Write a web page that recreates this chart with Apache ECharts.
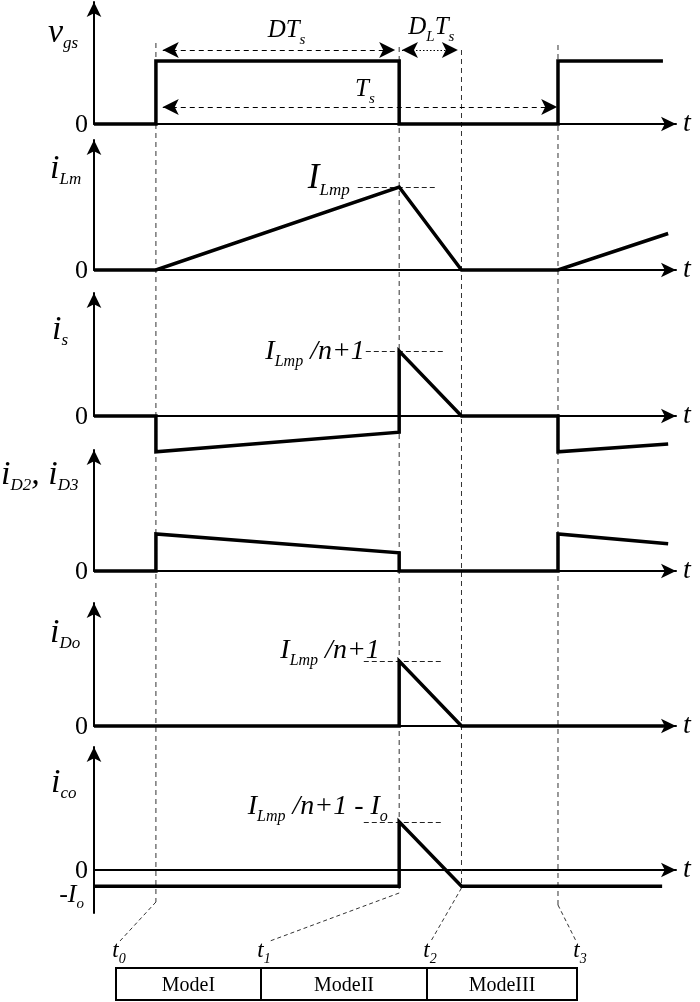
<!DOCTYPE html>
<html><head><meta charset="utf-8">
<script src="https://cdn.jsdelivr.net/npm/echarts@6/dist/echarts.min.js"></script>
<style>html,body{margin:0;padding:0;background:#fff}#c{width:700px;height:1002px}</style>
</head><body><div id="c"></div>
<script>
// ================= DATA (time in units of Ts, t0 = 0) =================
const eventTimes = [0, 0.605, 0.76, 1];          // t0, t1, t2, t3
const eventSubs  = ['0', '1', '2', '3'];
const modeNames  = ['ModeI', 'ModeII', 'ModeIII'];

const vgs  = [[-0.154,0],[0,0],[0,1],[0.605,1],[0.605,0],[1,0],[1,1],[1.261,1]];
const iLm  = [[-0.154,0],[0,0],[0.605,1],[0.76,0],[1,0],[1.274,0.44]];
const iS   = [[-0.154,0],[0,0],[0,-0.55],[0.605,-0.25],[0.605,1],[0.76,0],[1,0],[1,-0.55],[1.274,-0.43]];
const iD23 = [[-0.154,0],[0,0],[0,0.57],[0.605,0.28],[0.605,0],[1,0],[1,0.57],[1.274,0.42]];
const iDo  = [[-0.154,0],[0.605,0],[0.605,1],[0.76,0],[1.265,0]];
const iCo  = [[-0.154,-0.25],[0.605,-0.25],[0.605,0.74],[0.76,-0.25],[1.259,-0.25]];
const Io   = -0.25;                               // -Io level of i_co

// peak reference (dashed) lines: [panel, level, tStart, tEnd]
const peakRefs = [[1, 1, 0.502, 0.699], [2, 1, 0.522, 0.716], [4, 1, 0.517, 0.711], [5, 0.74, 0.517, 0.711]];
// dimension arrows on v_gs: [tFrom, tTo, level, dotted]
const dimArrows = [[0.017, 0.595, 1.175, false], [0.612, 0.751, 1.175, true], [0.017, 0.998, 0.27, false]];

// ================= LAYOUT / STYLE =================
const X_MIN = -0.154, X_MAX = 1.2935;
const GRID_LEFT = 94, GRID_RIGHT = 24;
const panels = [
  {data: vgs,  top: 2,   bottom: 124, min: 0,      max: 1.937, name: [['M','v'],['S','gs']], nameX: 48, nameBase: 43},
  {data: iLm,  top: 140, bottom: 270, min: 0,      max: 1.566, name: [['M','i'],['S','Lm']], nameX: 50, nameBase: 179},
  {data: iS,   top: 293, bottom: 416, min: 0,      max: 1.892, name: [['M','i'],['S','s']],  nameX: 52, nameBase: 340},
  {data: iD23, top: 450, bottom: 571, min: 0,      max: 1.862, name: [['M','i'],['S','D2'],['M',', i'],['S','D3']], nameX: 1, nameBase: 485},
  {data: iDo,  top: 603, bottom: 726, min: 0,      max: 1.892, name: [['M','i'],['S','Do']], nameX: 50, nameBase: 643},
  {data: iCo,  top: 747, bottom: 913, min: -0.662, max: 1.892, name: [['M','i'],['S','co']], nameX: 51, nameBase: 793}
];
const vTop = [43, 47, 50, 45], vBottom = [902, 893, 888, 905];
const boxX = [116, 261, 427, 577], boxTop = 968, boxBottom = 1000;
const diagEndX = [120, 270, 431, 576], diagEndY = 941;

const SERIF = '"Liberation Serif", "Times New Roman", serif';
const BASE_K = 0.25;   // distance of alphabetic baseline below the em-box middle, in em
function sty(size, italic, extra) {
  return Object.assign({font: (italic ? 'italic ' : '') + size + 'px ' + SERIF,
    fill: '#000', lineHeight: size + 2, verticalAlign: 'top'}, extra || {});
}

const chart = echarts.init(document.getElementById('c'), null, {renderer: 'canvas', width: 700, height: 1002});

const grids = [], xAxes = [], yAxes = [], series = [];
const axisLineStyle = {color: '#000', width: 2};
panels.forEach((p, i) => {
  grids.push({left: GRID_LEFT, right: GRID_RIGHT, top: p.top, height: p.bottom - p.top, outerBoundsMode: 'none'});
  xAxes.push({type: 'value', gridIndex: i, min: X_MIN, max: X_MAX,
    axisLine: {show: true, onZero: true, symbol: ['none', 'arrow'], symbolSize: [11, 15], lineStyle: axisLineStyle},
    axisTick: {show: false}, axisLabel: {show: false}, splitLine: {show: false}});
  yAxes.push({type: 'value', gridIndex: i, min: p.min, max: p.max,
    axisLine: {show: true, onZero: false, symbol: ['none', 'arrow'], symbolSize: [11, 15], lineStyle: axisLineStyle},
    axisTick: {show: false}, axisLabel: {show: false}, splitLine: {show: false}});
  const s = {type: 'line', xAxisIndex: i, yAxisIndex: i, data: p.data, showSymbol: false, symbol: 'none',
    clip: false, silent: true, animation: false, z: 5,
    lineStyle: {color: '#000', width: 3.5, join: 'miter', cap: 'butt'}};
  const refs = peakRefs.filter(r => r[0] === i);
  if (refs.length) {
    s.markLine = {silent: true, animation: false, symbol: ['none', 'none'], label: {show: false},
      emphasis: {disabled: true},
      lineStyle: {color: '#222', width: 1, type: [5, 3]},
      data: refs.map(r => [{coord: [r[2], r[1]]}, {coord: [r[3], r[1]]}])};
  }
  if (i === 0) {
    s.markLine = {silent: true, animation: false, symbol: ['arrow', 'arrow'], symbolSize: [12, 16],
      label: {show: false}, emphasis: {disabled: true},
      lineStyle: {color: '#000', width: 1.2, type: [5, 4]},
      data: dimArrows.map(d => [
        {coord: [d[0], d[2]], lineStyle: {type: d[3] ? [1.5, 2] : [5, 4]}},
        {coord: [d[1], d[2]]}])};
  }
  series.push(s);
});

chart.setOption({animation: false, grid: grids, xAxis: xAxes, yAxis: yAxes, series: series});

// ---------- annotations positioned through the axes' scales ----------
const px = t => chart.convertToPixel({xAxisIndex: 0}, t);
const py = (i, v) => chart.convertToPixel({yAxisIndex: i}, v);
const G = [];
function gLine(x1, y1, x2, y2, style) {
  G.push({type: 'line', silent: true, z: 1, shape: {x1, y1, x2, y2},
    style: Object.assign({stroke: '#333', lineWidth: 1, lineDash: [5, 4]}, style || {})});
}
function gText(tokens, mainSize, subSize, x, baseline, align) {
  const rich = {
    M: sty(mainSize, true),
    R: sty(mainSize, false),
    S: sty(subSize, true, {padding: [Math.round(mainSize * 0.56), 0, 0, 0]})
  };
  const str = tokens.map(t => '{' + t[0] + '|' + t[1] + '}').join('');
  const top = baseline - ((mainSize + 2) / 2 + BASE_K * mainSize);
  G.push({type: 'text', silent: true, z: 20, x: x, y: top,
    style: {text: str, rich: rich, font: mainSize + 'px ' + SERIF, align: align || 'left', verticalAlign: 'top', fill: '#000'}});
}

// vertical dashed event lines and diagonal leaders to the timeline
eventTimes.forEach((t, k) => {
  const x = px(t);
  gLine(x, vTop[k], x, vBottom[k]);
  gLine(x, vBottom[k], diagEndX[k], diagEndY, {lineDash: [4, 3]});
  gText([['M', 't'], ['S', eventSubs[k]]], 23, 14, boxX[k] + 3, 958, 'center');
});

// timeline box
G.push({type: 'rect', silent: true, z: 2, shape: {x: boxX[0], y: boxTop, width: boxX[3] - boxX[0], height: boxBottom - boxTop},
  style: {fill: 'none', stroke: '#000', lineWidth: 2}});
[1, 2].forEach(k => gLine(boxX[k], boxTop, boxX[k], boxBottom, {stroke: '#000', lineWidth: 2, lineDash: null}));
modeNames.forEach((m, k) => {
  G.push({type: 'text', silent: true, z: 20, x: (boxX[k] + boxX[k + 1]) / 2, y: (boxTop + boxBottom) / 2 + 2,
    style: {text: m, font: '20px ' + SERIF, fill: '#000', align: 'center', verticalAlign: 'middle'}});
});

// axis names, zeros and 't'
panels.forEach((p, i) => {
  gText(p.name, 34, 17, p.nameX, p.nameBase, 'left');
  const z = py(i, 0);
  gText([['R', '0']], 26, 14, 88, z + 9, 'right');
  gText([['M', 't']], 28, 14, 683, z + 8, 'left');
});
gText([['M', '-I'], ['S', 'o']], 26, 15, 84, py(5, Io) + 16, 'right');

// dimension labels on v_gs
const yDim1 = py(0, dimArrows[0][2]), yDim2 = py(0, dimArrows[2][2]);
gText([['M', 'DT'], ['S', 's']], 25, 15, (px(eventTimes[0]) + px(eventTimes[1])) / 2 + 9, yDim1 - 12, 'center');
gText([['M', 'D'], ['S', 'L'], ['M', 'T'], ['S', 's']], 25, 15, (px(eventTimes[1]) + px(eventTimes[2])) / 2 + 1, yDim1 - 15, 'center');
gText([['M', 'T'], ['S', 's']], 25, 15, (px(eventTimes[0]) + px(eventTimes[3])) / 2 + 8, yDim2 - 10, 'center');

// peak labels
(function () {
  const r1 = peakRefs[0], r2 = peakRefs[1], r4 = peakRefs[2], r5 = peakRefs[3];
  gText([['M', 'I'], ['S', 'Lmp']], 35, 17, px(r1[2]) - 8, py(1, r1[1]) + 2, 'right');
  gText([['M', 'I'], ['S', 'Lmp'], ['M', ' /n+1']], 28, 16, px(r2[2]) - 1, py(2, r2[1]) + 9, 'right');
  gText([['M', 'I'], ['S', 'Lmp'], ['M', ' /n+1']], 28, 16, px(r4[2]) + 16, py(4, r4[1]) - 2, 'right');
  gText([['M', 'I'], ['S', 'Lmp'], ['M', ' /n+1 - I'], ['S', 'o']], 28, 16, px(r5[2]) + 24, py(5, r5[1]) - 7, 'right');
})();

chart.setOption({graphic: {elements: G}});
</script></body></html>
